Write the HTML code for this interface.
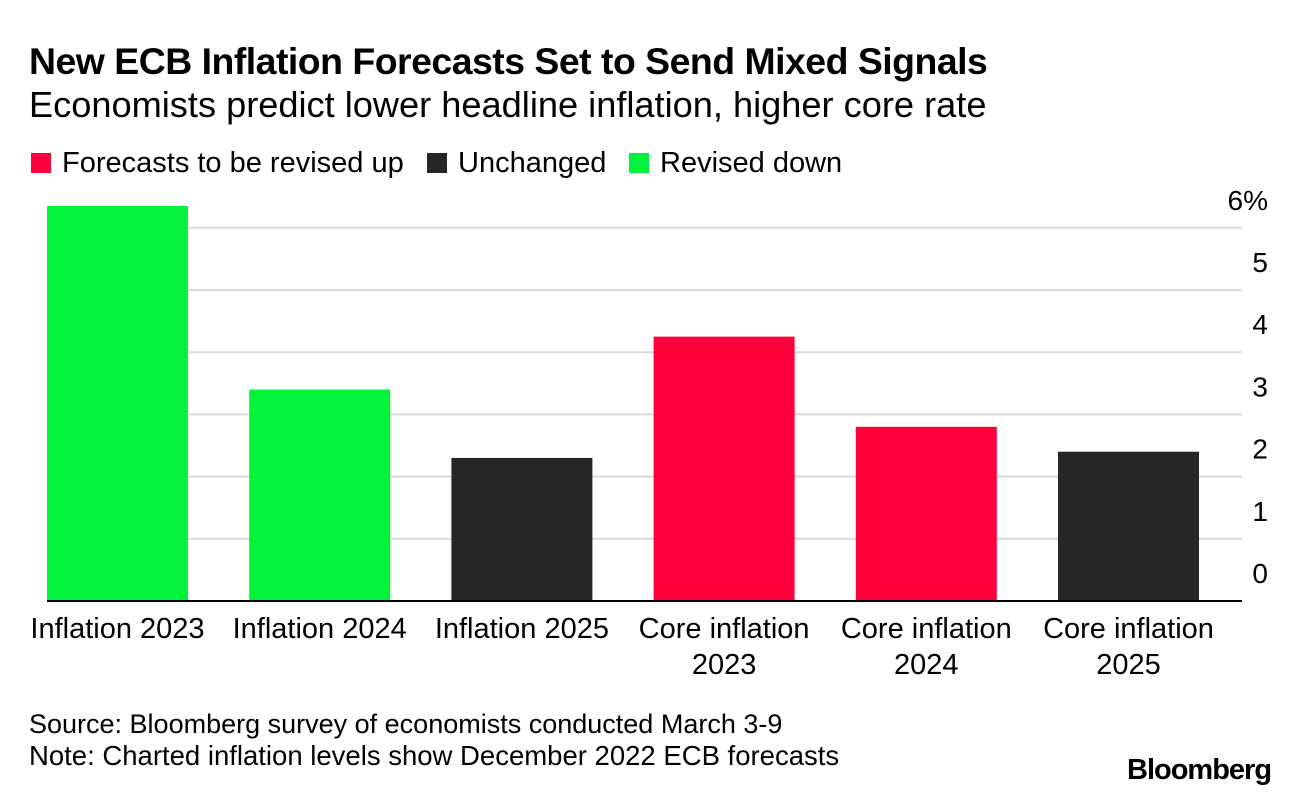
<!DOCTYPE html>
<html><head><meta charset="utf-8"><style>
body{margin:0;background:#fff;font-family:"Liberation Sans",sans-serif;color:#000}
#wrap{position:relative;width:1296px;height:796px;overflow:hidden}
.t{position:absolute;white-space:nowrap}
</style></head><body><div id="wrap">
<div class="t" style="left:29px;top:40px;font-size:37.4px;font-weight:bold;letter-spacing:-0.5px">New ECB Inflation Forecasts Set to Send Mixed Signals</div>
<div class="t" style="left:29px;top:84px;font-size:36.2px">Economists predict lower headline inflation, higher core rate</div>
<div class="t" style="left:31px;top:147px;font-size:29px"><span style="display:inline-block;width:20px;height:20px;background:#ff003c;margin-right:11px;vertical-align:-1px"></span>Forecasts to be revised up</div>
<div class="t" style="left:427px;top:147px;font-size:29px"><span style="display:inline-block;width:20px;height:20px;background:#262626;margin-right:11px;vertical-align:-1px"></span>Unchanged</div>
<div class="t" style="left:629px;top:147px;font-size:29px"><span style="display:inline-block;width:20px;height:20px;background:#00f33a;margin-right:11px;vertical-align:-1px"></span>Revised down</div>
<svg id="chart" width="1296" height="796" style="position:absolute;left:0;top:0"></svg>
<div class="t" style="left:29px;top:709px;font-size:27px">Source: Bloomberg survey of economists conducted March 3-9</div>
<div class="t" style="left:29px;top:740px;font-size:27.5px">Note: Charted inflation levels show December 2022 ECB forecasts</div>
<div class="t" style="left:1127px;top:754px;font-size:29px;font-weight:bold;letter-spacing:-1px">Bloomberg</div>
</div>
<script>
const categories=[["Inflation 2023"],["Inflation 2024"],["Inflation 2025"],["Core inflation","2023"],["Core inflation","2024"],["Core inflation","2025"]];
const values=[6.35,3.4,2.3,4.25,2.8,2.4];
const statuses=["down","down","unchanged","up","up","unchanged"];
const ticks=[0,1,2,3,4,5,6];
const tickLabels=["0","1","2","3","4","5","6%"];
const colors={up:"#ff003c",unchanged:"#262626",down:"#00f33a"};
const svg=document.getElementById('chart');const NS="http://www.w3.org/2000/svg";
const y0=601,unit=62.2,x0=47,step=202.2,bw=141;
const y=v=>y0-v*unit;const x=i=>x0+i*step;
function mk(t,a){const e=document.createElementNS(NS,t);for(const k in a)e.setAttribute(k,a[k]);svg.appendChild(e);return e;}
ticks.forEach((t,i)=>{
 if(t>0){const g=mk('line',{x1:47,x2:1242,y1:y(t),y2:y(t),stroke:'#d9d9d9','stroke-width':2});
 }
 const l=mk('text',{x:1268,y:y(t)-18,'text-anchor':'end','font-size':28,'font-family':'Liberation Sans, sans-serif'});
 l.textContent=tickLabels[i];
 
});
values.forEach((v,i)=>{
 const r=mk('rect',{x:x(i),y:y(v),width:bw,height:y0-y(v),fill:colors[statuses[i]]});
 
 categories[i].forEach((s,j)=>{
  const t=mk('text',{x:x(i)+bw/2,y:638+j*36,'text-anchor':'middle','font-size':29,'font-family':'Liberation Sans, sans-serif'});
  t.textContent=s;
  
 });
});
const ax=mk('line',{x1:47,x2:1242,y1:y0,y2:y0,stroke:'#000','stroke-width':2});

</script></body></html>
